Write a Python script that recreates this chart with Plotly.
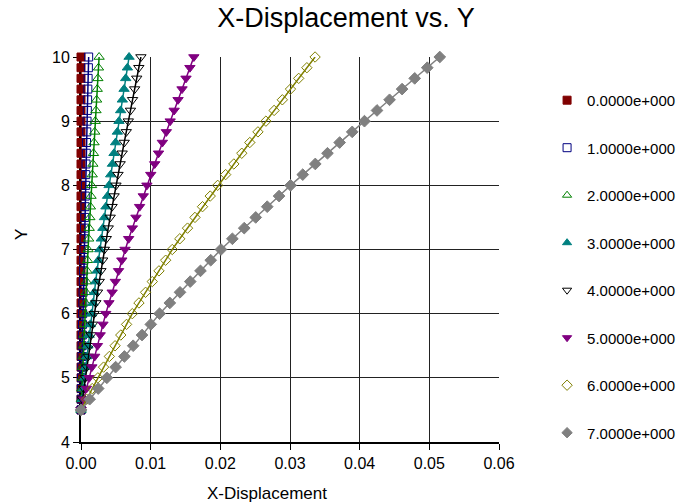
import plotly.graph_objects as go

y_vals = [4.5, 4.667, 4.833, 5.0, 5.167, 5.333, 5.5, 5.667, 5.833, 6.0, 6.167, 6.333,
          6.5, 6.667, 6.833, 7.0, 7.167, 7.333, 7.5, 7.667, 7.833, 8.0, 8.167, 8.333,
          8.5, 8.667, 8.833, 9.0, 9.167, 9.333, 9.5, 9.667, 9.833, 10.0]

s0 = [0.0] * 34
s1 = [0, 0.00003, 0.00005, 0.00008, 0.00011, 0.00013, 0.00016, 0.00019, 0.00021, 0.00024,
      0.00027, 0.0003, 0.00033, 0.00037, 0.0004, 0.00043, 0.00046, 0.0005, 0.00054, 0.00057,
      0.00061, 0.00064, 0.00068, 0.00072, 0.00076, 0.00079, 0.00083, 0.00087, 0.00091,
      0.00095, 0.00098, 0.00102, 0.00106, 0.0011]
s2 = [0, 0.00006, 0.00012, 0.00019, 0.00025, 0.00031, 0.00038, 0.00044, 0.00051, 0.00057,
      0.00064, 0.00072, 0.00079, 0.00087, 0.00094, 0.00101, 0.0011, 0.00118, 0.00127, 0.00135,
      0.00144, 0.00152, 0.00161, 0.0017, 0.00179, 0.00187, 0.00197, 0.00205, 0.00215,
      0.00224, 0.00233, 0.00242, 0.00251, 0.0026]
s3 = [0, 0.00017, 0.00033, 0.0005, 0.00067, 0.00083, 0.001, 0.00117, 0.00134, 0.00151,
      0.00171, 0.0019, 0.0021, 0.0023, 0.00249, 0.00269, 0.00291, 0.00314, 0.00336, 0.00358,
      0.00381, 0.00403, 0.00426, 0.00451, 0.00474, 0.00497, 0.00522, 0.00545, 0.00569,
      0.00593, 0.00618, 0.00642, 0.00666, 0.0069]
s4 = [0, 0.00021, 0.00041, 0.00062, 0.00083, 0.00104, 0.00125, 0.00146, 0.00167, 0.00188,
      0.00213, 0.00237, 0.00262, 0.00286, 0.00311, 0.00335, 0.00363, 0.00391, 0.00419, 0.00446,
      0.00475, 0.00502, 0.00531, 0.00562, 0.00591, 0.0062, 0.0065, 0.00679, 0.0071, 0.0074,
      0.0077, 0.008, 0.0083, 0.0086]
s5 = [0, 0.00039, 0.00078, 0.00117, 0.00156, 0.00196, 0.00236, 0.00275, 0.00315, 0.00355,
      0.00401, 0.00447, 0.00493, 0.00539, 0.00586, 0.00632, 0.00684, 0.00737, 0.00789, 0.00841,
      0.00894, 0.00946, 0.01001, 0.01058, 0.01113, 0.01168, 0.01225, 0.0128, 0.01337, 0.01393,
      0.0145, 0.01507, 0.01563, 0.0162]
s6 = [0, 0.00081, 0.00161, 0.00242, 0.00324, 0.00407, 0.00489, 0.00571, 0.00654, 0.00736,
      0.00832, 0.00927, 0.01023, 0.01119, 0.01215, 0.0131, 0.01418, 0.01529, 0.01636, 0.01744,
      0.01855, 0.01962, 0.02076, 0.02194, 0.02308, 0.02423, 0.0254, 0.02654, 0.02772, 0.0289,
      0.03007, 0.03125, 0.03242, 0.0336]
s7 = [0, 0.00124, 0.00247, 0.00371, 0.00497, 0.00623, 0.00749, 0.00876, 0.01002, 0.01128,
      0.01275, 0.01421, 0.01568, 0.01715, 0.01862, 0.02009, 0.02173, 0.02343, 0.02508, 0.02673,
      0.02843, 0.03008, 0.03183, 0.03363, 0.03538, 0.03713, 0.03893, 0.04069, 0.04249, 0.04429,
      0.04609, 0.0479, 0.0497, 0.0515]

series_names = ["0.0000e+000", "1.0000e+000", "2.0000e+000", "3.0000e+000",
                "4.0000e+000", "5.0000e+000", "6.0000e+000", "7.0000e+000"]
series_x = [s0, s1, s2, s3, s4, s5, s6, s7]
colors = ["#800000", "#000080", "#008000", "#008080", "#000000", "#800080", "#808000", "#808080"]
symbols = ["square", "square-open", "triangle-up-open", "triangle-up",
           "triangle-down-open", "triangle-down", "diamond-open", "diamond"]
sizes = [8, 8, 9, 9, 9, 9, 8, 9]

FONT = "Liberation Sans, Arial, sans-serif"

fig = go.Figure()
for i in range(8):
    fig.add_trace(go.Scatter(
        x=series_x[i], y=y_vals, mode="lines+markers", name=series_names[i],
        line=dict(color=colors[i], width=1.5),
        marker=dict(symbol=symbols[i], size=sizes[i], color=colors[i],
                    line=dict(color=colors[i], width=1)),
        cliponaxis=False, showlegend=False))

for i in range(8):
    fig.add_trace(go.Scatter(
        x=[None], y=[None], mode="markers", name=series_names[i],
        marker=dict(symbol=symbols[i], size=8, color=colors[i],
                    line=dict(color=colors[i], width=1)),
        legendgroup="g%d" % i, showlegend=True))

fig.update_layout(
    width=684, height=504,
    margin=dict(l=81, r=185, t=57, b=62, autoexpand=False),
    paper_bgcolor="white", plot_bgcolor="white",
    title=dict(text="X-Displacement vs. Y", x=346 / 684, xref="container", xanchor="center",
               y=1 - 18 / 504, yref="container", yanchor="middle",
               font=dict(family=FONT, size=27, color="black")),
    xaxis=dict(range=[0, 0.06], dtick=0.01, tick0=0, tickformat=".2f",
               showgrid=True, gridcolor="#222222", gridwidth=1,
               showline=True, linecolor="black", linewidth=2,
               ticks="outside", ticklen=6, tickcolor="black", tickwidth=1,
               zeroline=False, layer="below traces",
               tickfont=dict(family=FONT, size=16, color="black")),
    yaxis=dict(range=[4, 10], dtick=1, tick0=4,
               showgrid=True, gridcolor="#222222", gridwidth=1,
               showline=True, linecolor="black", linewidth=2,
               ticks="outside", ticklen=6, tickcolor="black", tickwidth=1,
               zeroline=False, layer="below traces",
               tickfont=dict(family=FONT, size=16, color="black")),
    legend=dict(x=1.115, xanchor="left", y=0.93, yanchor="top",
                font=dict(family=FONT, size=15, color="black"),
                tracegroupgap=25, bgcolor="rgba(0,0,0,0)", traceorder="grouped",
                maxheight=480),
    annotations=[
        dict(text="X-Displacement", x=(267 - 81) / 418, y=(442 - 493) / 385,
             xref="paper", yref="paper",
             showarrow=False, xanchor="center", yanchor="middle",
             font=dict(family=FONT, size=17, color="black")),
        dict(text="Y", x=(21 - 81) / 418, y=(442 - 235) / 385, xref="paper", yref="paper",
             showarrow=False, xanchor="center", yanchor="middle", textangle=-90,
             font=dict(family=FONT, size=17, color="black")),
    ],
)

fig.write_html("out.html")
